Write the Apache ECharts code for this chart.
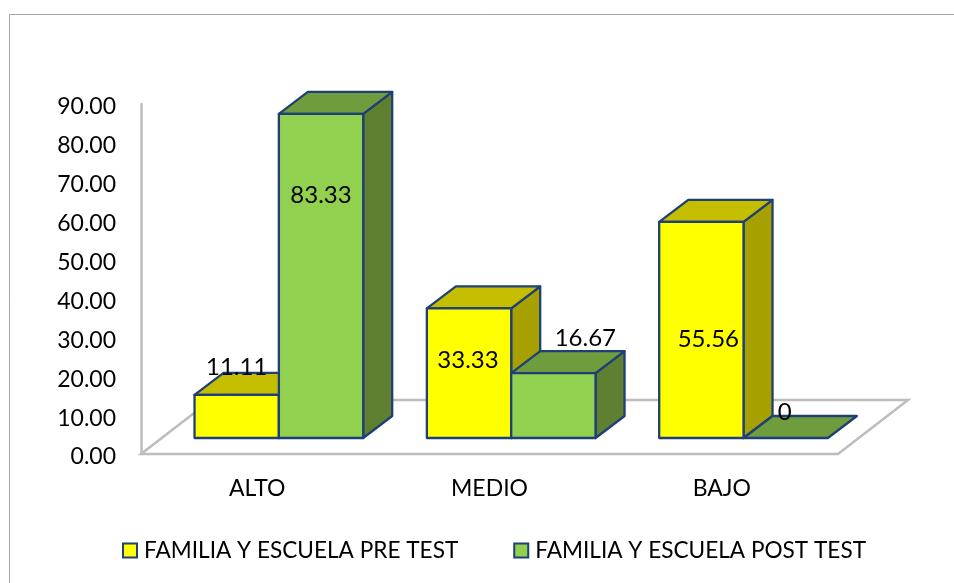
<!DOCTYPE html>
<html><head><meta charset="utf-8">
<style>html,body{margin:0;padding:0;background:#fff}#c{width:954px;height:583px}</style>
<script src="https://cdn.jsdelivr.net/npm/echarts@6/dist/echarts.min.js"></script>
</head><body><div id="c"></div>
<script>
const categories = ['ALTO', 'MEDIO', 'BAJO'];
const preTest = [11.11, 33.33, 55.56];
const postTest = [83.33, 16.67, 0];
const preName = 'FAMILIA Y ESCUELA PRE TEST';
const postName = 'FAMILIA Y ESCUELA POST TEST';

// 3D look (pixels)
const FONT = 'Lato';
const DX = 29, DY = -22, BASE_LIFT = 16, SHIFT = 21.7, BAR_RATIO = 0.363;
const FLOOR_DX = 70, FLOOR_DY = -54;
const EDGE = '#1F3F77';
const preColors = {front:'#FFFF00', top:'#C4BD00', side:'#A6A000'};
const postColors = {front:'#92D050', top:'#6F9C3C', side:'#5E8030'};
// label placement relative to front-top centre of each bar
const preLabelShift = [[0,-28],[-1,52],[7,117]];
const postLabelShift = [[0,81],[32,-35],[-1,-26]];

function barRenderer(colors, side, shifts){
  return function(params, api){
    const i = api.value(0), v = api.value(1);
    const band = api.size([1,0])[0];
    const w = band * BAR_RATIO;
    const c = api.coord([i, v]);
    const z = api.coord([i, 0]);
    const y1 = z[1] - BASE_LIFT;
    const y0 = c[1] - BASE_LIFT;
    const cx = c[0] + SHIFT;
    const x0 = side < 0 ? cx - w : cx;
    const x1 = x0 + w;
    const st = f => ({fill:f, stroke:EDGE, lineWidth:2.3, lineJoin:'round'});
    const children = [];
    if (v > 0) children.push(
      {type:'polygon', shape:{points:[[x1,y0],[x1+DX,y0+DY],[x1+DX,y1+DY],[x1,y1]]}, style:st(colors.side)});
    children.push(
      {type:'polygon', shape:{points:[[x0,y0],[x1,y0],[x1+DX,y0+DY],[x0+DX,y0+DY]]}, style:st(colors.top)});
    if (v > 0) children.push(
      {type:'rect', shape:{x:x0, y:y0, width:w, height:y1-y0}, style:st(colors.front)});
    const s = shifts[params.dataIndex];
    children.push({type:'text', z2:50, style:{
      text:String(v), x:(x0+x1)/2+s[0], y:y0+s[1], align:'center', verticalAlign:'middle',
      fontFamily:FONT, fontSize:24, fill:'#000'}});
    return {type:'group', children};
  };
}
function floorRenderer(params, api){
  const g = params.coordSys;
  const yb = g.y + g.height, xl = g.x, xr = g.x + g.width;
  return {type:'polygon', silent:true, shape:{points:[
    [xl,yb],[xr,yb],[xr+FLOOR_DX,yb+FLOOR_DY],[xl+FLOOR_DX,yb+FLOOR_DY]]},
    style:{fill:'#fff', stroke:'#BDBDBD', lineWidth:2.5}};
}
const chart = echarts.init(document.getElementById('c'), null, {renderer:'canvas'});
chart.setOption({
  animation:false,
  backgroundColor:'#fff',
  textStyle:{fontFamily:FONT},
  graphic:[{type:'rect', silent:true, shape:{x:9.5,y:14.5,width:1000,height:700},
    style:{fill:'none', stroke:'#A6A6A6', lineWidth:1}}],
  grid:{left:141, top:104, width:697, height:350, containLabel:false},
  legend:{left:117, top:534, itemGap:55, itemWidth:14, itemHeight:14, icon:'rect',
    textStyle:{fontFamily:FONT, fontSize:22.6, color:'#000', padding:[0,0,0,2]},
    data:[preName, postName]},
  xAxis:{type:'category', data:categories, axisLine:{show:false}, axisTick:{show:false},
    axisLabel:{margin:23, fontFamily:FONT, fontSize:23, color:'#000'}},
  yAxis:{type:'value', min:0, max:90, interval:10, splitLine:{show:false}, axisTick:{show:false},
    axisLine:{show:true, lineStyle:{color:'#BDBDBD', width:2.5}},
    axisLabel:{margin:25, fontFamily:FONT, fontSize:23, color:'#000',
      formatter:v=>'{t|'+v.toFixed(2)+'}',
      rich:{t:{fontFamily:FONT, fontSize:23, color:'#000', padding:[6,0,0,0]}}}},
  series:[
    {type:'custom', name:'floor', renderItem:floorRenderer, data:[[0,0]], z:1, clip:false, silent:true},
    {type:'custom', name:preName, z:2, clip:false, renderItem:barRenderer(preColors,-1,preLabelShift),
     itemStyle:{color:preColors.front, borderColor:EDGE, borderWidth:2},
     encode:{x:0,y:1}, data:preTest.map((v,i)=>[i,v])},
    {type:'custom', name:postName, z:3, clip:false, renderItem:barRenderer(postColors,1,postLabelShift),
     itemStyle:{color:postColors.front, borderColor:EDGE, borderWidth:2},
     encode:{x:0,y:1}, data:postTest.map((v,i)=>[i,v])}
  ]
});
</script></body></html>
